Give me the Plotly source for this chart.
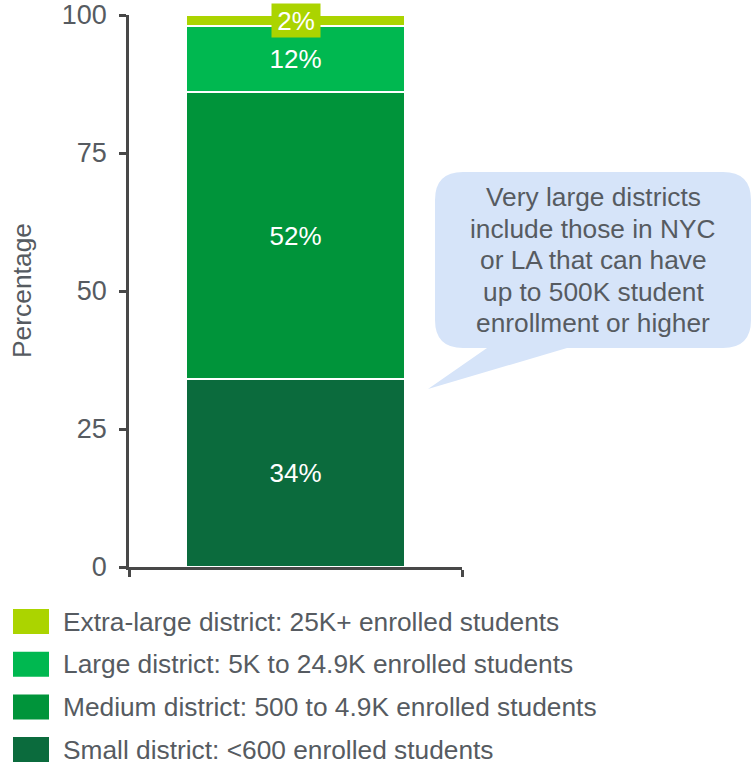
import plotly.graph_objects as go

# District size shares (percent of districts), bottom to top of the stack
categories = [
    "Small district: <600 enrolled students",
    "Medium district: 500 to 4.9K enrolled students",
    "Large district: 5K to 24.9K enrolled students",
    "Extra-large district: 25K+ enrolled students",
]
shares = [34, 52, 12, 2]
colors = ["#0b6b3d", "#00943a", "#00b850", "#abd400"]
y_ticks = [0, 25, 50, 75, 100]

callout_lines = [
    "Very large districts",
    "include those in NYC",
    "or LA that can have",
    "up to 500K student",
    "enrollment or higher",
]

FONT = "Liberation Sans, Arial, sans-serif"
TEXT_GRAY = "#565b61"
AXIS_GRAY = "#484848"

W, H = 751, 765
L, R, T, B = 129, 289, 15, 198
PW, PH = W - L - R, H - T - B


def px(x):
    return (x - L) / PW


def py(y):
    return (H - B - y) / PH


fig = go.Figure()

for name, val, col in zip(categories, shares, colors):
    fig.add_trace(go.Bar(
        x=[0], y=[val], name=name, width=0.66,
        marker=dict(color=col, line=dict(color="white", width=2)),
        text=[f"{val}%"] if val >= 5 else [""],
        textposition="inside", insidetextanchor="middle",
        textfont=dict(color="white", size=26, family=FONT),
        showlegend=False, hoverinfo="skip",
    ))

annotations = []
shapes = []

# Small top segment gets a boxed label centred on it
base = 0
for val, col in zip(shares, colors):
    if val < 5:
        annotations.append(dict(
            x=0, y=base + val / 2, xref="x", yref="y", text=f"{val}%",
            showarrow=False, font=dict(color="white", size=26, family=FONT),
            bgcolor=col, width=40, height=25, borderpad=4,
            xanchor="center", yanchor="middle",
        ))
    base += val

# Speech-bubble callout
x0, x1, y0, y1, r = 435, 751, 172, 348, 28
tail = [(567, 348), (428, 389), (487, 348)]
pts = [
    f"M {px(x0 + r)},{py(y0)}",
    f"L {px(x1 - r)},{py(y0)}",
    f"Q {px(x1)},{py(y0)} {px(x1)},{py(y0 + r)}",
    f"L {px(x1)},{py(y1 - r)}",
    f"Q {px(x1)},{py(y1)} {px(x1 - r)},{py(y1)}",
]
for tx, ty in tail:
    pts.append(f"L {px(tx)},{py(ty)}")
pts += [
    f"L {px(x0 + r)},{py(y1)}",
    f"Q {px(x0)},{py(y1)} {px(x0)},{py(y1 - r)}",
    f"L {px(x0)},{py(y0 + r)}",
    f"Q {px(x0)},{py(y0)} {px(x0 + r)},{py(y0)}",
    "Z",
]
shapes.append(dict(type="path", path=" ".join(pts), xref="paper", yref="paper",
                   fillcolor="#d6e4f9", line=dict(width=0), layer="above"))

for i, line in enumerate(callout_lines):
    annotations.append(dict(
        x=px(593), y=py(197 + i * 31.6), xref="paper", yref="paper",
        text=line, showarrow=False, xanchor="center", yanchor="middle",
        font=dict(size=26.3, color=TEXT_GRAY, family=FONT),
    ))

# Axis title
annotations.append(dict(
    x=px(22), y=0.5, xref="paper", yref="paper", text="Percentage",
    textangle=-90, showarrow=False, xanchor="center", yanchor="middle",
    font=dict(size=26.4, color=TEXT_GRAY, family=FONT),
))

# Legend with large swatches, top entry first
for i, (name, col) in enumerate(zip(categories[::-1], colors[::-1])):
    cy = 621.5 + i * 42.7
    shapes.append(dict(type="rect", xref="paper", yref="paper",
                       x0=px(13), x1=px(49), y0=py(cy - 12.5), y1=py(cy + 12.5),
                       fillcolor=col, line=dict(width=0)))
    annotations.append(dict(
        x=px(61), y=py(cy), xref="paper", yref="paper", text=name,
        showarrow=False, xanchor="left", yanchor="middle",
        font=dict(size=26.3, color=TEXT_GRAY, family=FONT),
    ))

fig.update_layout(
    width=W, height=H,
    margin=dict(l=L, r=R, t=T, b=B, pad=0, autoexpand=False),
    barmode="stack", bargap=0,
    plot_bgcolor="white", paper_bgcolor="white",
    showlegend=False,
    font=dict(family=FONT, color=TEXT_GRAY),
    shapes=shapes, annotations=annotations,
    xaxis=dict(range=[-0.5, 0.5], tickvals=[-0.5, 0.5], showticklabels=False,
               ticks="outside", ticklen=7, tickwidth=2.5, tickcolor=AXIS_GRAY,
               showline=True, linecolor=AXIS_GRAY, linewidth=2.5,
               showgrid=False, zeroline=False, automargin=False),
    yaxis=dict(range=[0, 100], tickvals=y_ticks, ticks="outside", ticklen=7,
               tickwidth=2.5, tickcolor=AXIS_GRAY,
               showline=True, linecolor=AXIS_GRAY, linewidth=2.5,
               showgrid=False, zeroline=False, automargin=False,
               tickfont=dict(size=27, color=TEXT_GRAY, family=FONT),
               ticklabelstandoff=7),
)

fig.write_html("out.html")
